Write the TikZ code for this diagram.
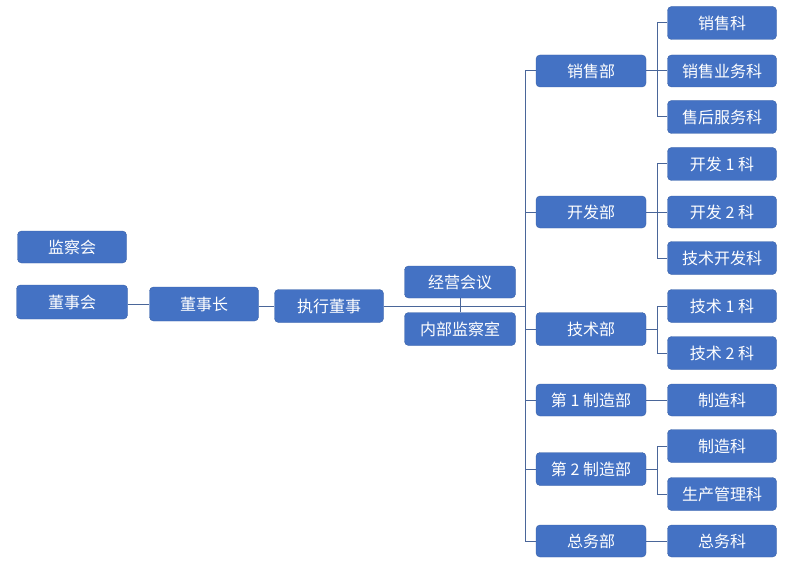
\documentclass[tikz,border=0pt]{standalone}
\usepackage{fontspec}
\setmainfont{Noto Sans CJK SC}
\usetikzlibrary{calc}
\definecolor{boxblue}{HTML}{4472C4}
\definecolor{linec}{HTML}{4A6699}
\tikzset{
  orgbox/.style={fill=boxblue, draw=boxblue!85!black, line width=0.4pt, rounded corners=4pt, minimum width=109pt, minimum height=32pt, inner sep=0pt, text=white, font=\fontsize{16}{17}\selectfont},
  conn/.style={draw=linec, line width=1pt}
}
\begin{document}
\begin{tikzpicture}[x=1pt,y=-1pt]
\useasboundingbox (0,0) rectangle (790,575);
% left chain
\node[orgbox] (jch) at (72,247) {监察会};
\node[orgbox, minimum width=111pt, minimum height=34pt] (dsh) at (72,302) {董事会};
\node[orgbox, minimum height=34pt] (dsz) at (204,304) {董事长};
\node[orgbox, minimum height=33pt] (zx) at (329,306) {执行董事};
\node[orgbox, minimum width=111pt] (jy) at (460,282) {经营会议};
\node[orgbox, minimum width=111pt, minimum height=33pt] (nb) at (460,329) {内部监察室};
% departments
\node[orgbox, minimum width=110pt] (xsb) at (591,71) {销售部};
\node[orgbox, minimum width=110pt] (kfb) at (591,212) {开发部};
\node[orgbox, minimum width=110pt, minimum height=33pt] (jsb) at (591,329) {技术部};
\node[orgbox, minimum width=110pt] (zz1) at (591,400) {第 1 制造部};
\node[orgbox, minimum width=110pt, minimum height=33pt] (zz2) at (591,469) {第 2 制造部};
\node[orgbox, minimum width=110pt] (zwb) at (591,541) {总务部};
% sections
\node[orgbox, minimum height=33pt] (s1) at (722,23) {销售科};
\node[orgbox] (s2) at (722,71) {销售业务科};
\node[orgbox, minimum height=33pt] (s3) at (722,117) {售后服务科};
\node[orgbox, minimum height=33pt] (k1) at (722,164) {开发 1 科};
\node[orgbox] (k2) at (722,212) {开发 2 科};
\node[orgbox, minimum height=33pt] (k3) at (722,258) {技术开发科};
\node[orgbox, minimum height=33pt] (t1) at (722,306) {技术 1 科};
\node[orgbox, minimum height=33pt] (t2) at (722,353) {技术 2 科};
\node[orgbox] (m1) at (722,400) {制造科};
\node[orgbox, minimum height=33pt] (m2) at (722,446) {制造科};
\node[orgbox, minimum height=33pt] (m3) at (722,494) {生产管理科};
\node[orgbox] (g1) at (722,541) {总务科};
% coordinates
\coordinate (tk) at (525,306);
\coordinate (bx) at (657,0);
% connectors
\draw[conn] (dsh.east |- dsz) -- (dsz.west);
\draw[conn] (dsz.east |- zx) -- (zx.west);
\draw[conn] (zx.east) -- (tk);
\draw[conn] (jy.south) -- (nb.north);
\draw[conn] (tk |- xsb.west) -- (tk |- zwb.west);
\foreach \d in {xsb,kfb,jsb,zz1,zz2,zwb}{
  \draw[conn] (tk |- \d.west) -- (\d.west);
}
% section brackets
\draw[conn] (xsb.east) -- (xsb.east -| bx);
\draw[conn] (bx |- s1.west) -- (bx |- s3.west);
\foreach \s in {s1,s2,s3}{\draw[conn] (bx |- \s.west) -- (\s.west);}
\draw[conn] (kfb.east) -- (kfb.east -| bx);
\draw[conn] (bx |- k1.west) -- (bx |- k3.west);
\foreach \s in {k1,k2,k3}{\draw[conn] (bx |- \s.west) -- (\s.west);}
\draw[conn] (jsb.east) -- (jsb.east -| bx);
\draw[conn] (bx |- t1.west) -- (bx |- t2.west);
\foreach \s in {t1,t2}{\draw[conn] (bx |- \s.west) -- (\s.west);}
\draw[conn] (zz1.east) -- (m1.west);
\draw[conn] (zz2.east) -- (zz2.east -| bx);
\draw[conn] (bx |- m2.west) -- (bx |- m3.west);
\foreach \s in {m2,m3}{\draw[conn] (bx |- \s.west) -- (\s.west);}
\draw[conn] (zwb.east) -- (g1.west);
\end{tikzpicture}
\end{document}
